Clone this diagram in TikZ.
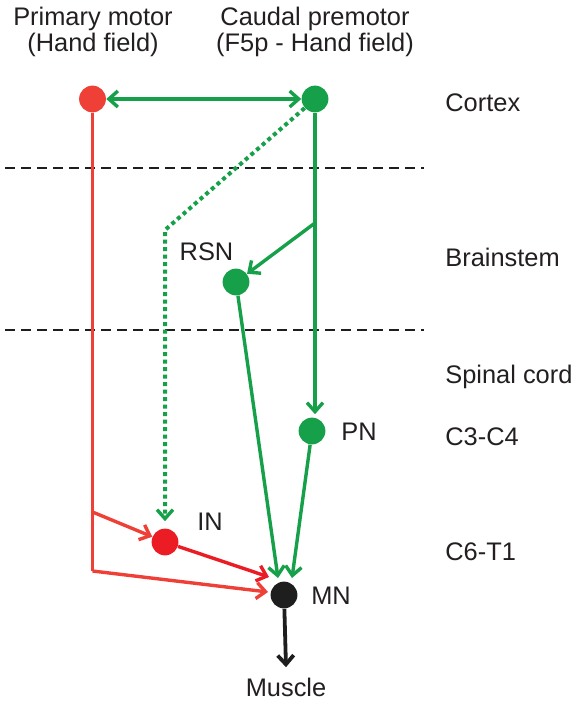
\documentclass[tikz,border=0pt]{standalone}
\usepackage{fontspec}
\setmainfont{Liberation Sans}
\usetikzlibrary{arrows.meta}
\definecolor{mred}{HTML}{EE4036}
\definecolor{inred}{HTML}{EC1C24}
\definecolor{mgreen}{HTML}{17A04A}
\definecolor{mblack}{HTML}{1E1E1E}
\definecolor{txt}{HTML}{231F20}
\tikzset{barb/.tip={Straight Barb[length=4.5pt,width=8pt,line width=1.7pt]}}
\begin{document}
\begin{tikzpicture}[x=0.5pt,y=-0.5pt,
  cell/.style={circle,fill=#1,minimum size=13.4pt,inner sep=0pt},
  lab/.style={text=txt,inner sep=0pt,font=\fontsize{12.7}{13}\selectfont},
  gline/.style={draw=mgreen,line width=1.7pt},
  rline/.style={draw=mred,line width=1.7pt},
  level/.style={draw=mblack,line width=0.6pt,dash pattern=on 5pt off 3pt}]
  \useasboundingbox (0,0) rectangle (577,701);
  % levels
  \draw[level] (5,168) -- (424,168);
  \draw[level] (5,330) -- (424,330);
  \node[lab,align=center,anchor=base] (m1t) at (93,52) {Primary motor\\(Hand field)};
  \node[lab,align=center,anchor=base] (f5t) at (315,52) {Caudal premotor\\(F5p - Hand field)};
  \node[lab,anchor=base west] (cx) at (445,112) {Cortex};
  \node[lab,anchor=base west] (bs) at (445,266) {Brainstem};
  \node[lab,anchor=base west] (sc) at (445,383) {Spinal cord};
  \node[lab,anchor=base west] (c3) at (445,445) {C3-C4};
  \node[lab,anchor=base west] (c6) at (445,560) {C6-T1};
  % cells
  \node[cell=mred] (M1) at (92.5,99) {};
  \node[cell=mgreen] (F5p) at (315,99) {};
  \node[cell=mgreen] (RSN) at (236,282) {};
  \node[cell=mgreen] (PN) at (312,431) {};
  \node[cell=inred] (IN) at (165,542) {};
  \node[cell=mblack] (MN) at (284,595) {};
  \node[lab,anchor=base] (rsnl) at (206.5,260) {RSN};
  \node[lab,anchor=base] (pnl) at (359,440) {PN};
  \node[lab,anchor=base] (inl) at (210,530) {IN};
  \node[lab,anchor=base] (mnl) at (331,604) {MN};
  \node[lab,anchor=base] (mus) at (286,696) {Muscle};
  \coordinate (br) at (315,223);
  \coordinate (dc) at (165,230);
  \coordinate (r1) at (92.5,512);
  \coordinate (r2) at (92.5,571);
  % green paths
  \draw[gline,{barb}-{barb}] (M1) -- (F5p);
  \draw[gline,-{barb}] (F5p) -- ([yshift=1.5pt]F5p |- PN.north);
  \draw[gline,-{barb}] (br) -- (RSN);
  \draw[draw=mgreen,line width=2pt,dash pattern=on 2pt off 1.75pt,-{barb},shorten >=3.5pt] (F5p) -- (dc) -- (IN);
  \draw[gline,-{barb}] (RSN) -- ([shift={(-6,-17)}]MN.center);
  \draw[gline,-{barb}] (PN) -- ([shift={(8,-17)}]MN.center);
  % red paths
  \draw[rline] (M1) -- (r2);
  \draw[rline,-{barb}] (r1) -- (IN);
  \draw[rline,-{barb}] (r2) -- ([shift={(-16,-3)}]MN.center);
  \draw[draw=inred,line width=1.7pt,-{barb}] (IN) -- ([shift={(-15,-18)}]MN.center);
  % output
  \draw[draw=mblack,line width=1.9pt,-{Straight Barb[length=4.5pt,width=8pt,line width=1.9pt]}] (MN) -- ([yshift=5pt]mus.north);
\end{tikzpicture}
\end{document}
